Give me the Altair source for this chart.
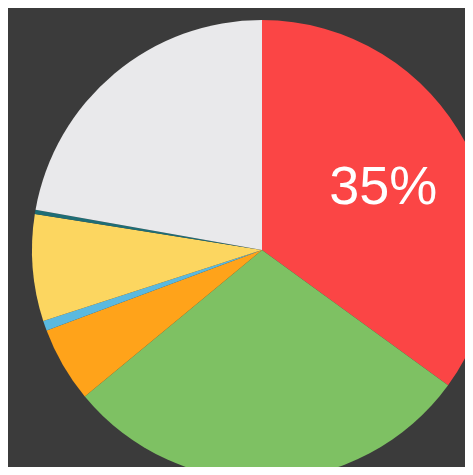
import altair as alt
import pandas as pd

categories = ["A", "B", "C", "D", "E", "F", "G"]
values = [35.0, 29.0, 5.3, 0.7, 7.5, 0.3, 22.2]
colors = ["#fb4545", "#7ec163", "#ffa31a", "#5ab9e0", "#fcd660", "#1f6d75", "#e9e9eb"]
labels = ["35%", "", "", "", "", "", ""]

df = pd.DataFrame({
    "cat": categories,
    "value": values,
    "order": list(range(len(categories))),
    "label": labels,
})

cx, cy = 254, 242

base = alt.Chart(df).encode(
    theta=alt.Theta("value:Q", stack=True),
    order=alt.Order("order:Q"),
)

arcs = base.mark_arc(radius=230, stroke=None).encode(
    x=alt.value(cx),
    y=alt.value(cy),
    color=alt.Color("cat:N", scale=alt.Scale(domain=categories, range=colors), legend=None),
)

text = base.mark_text(radius=136, fontSize=54, color="#ffffff", font="Liberation Sans").encode(
    x=alt.value(cx),
    y=alt.value(cy),
    text="label:N",
)

chart = (arcs + text).properties(
    width=457, height=459,
    autosize=alt.AutoSizeParams(type="none"),
    padding=0,
    background="#3b3b3b",
).configure_view(stroke=None)

chart.save("out.html", embed_options={"renderer": "svg", "actions": False})
